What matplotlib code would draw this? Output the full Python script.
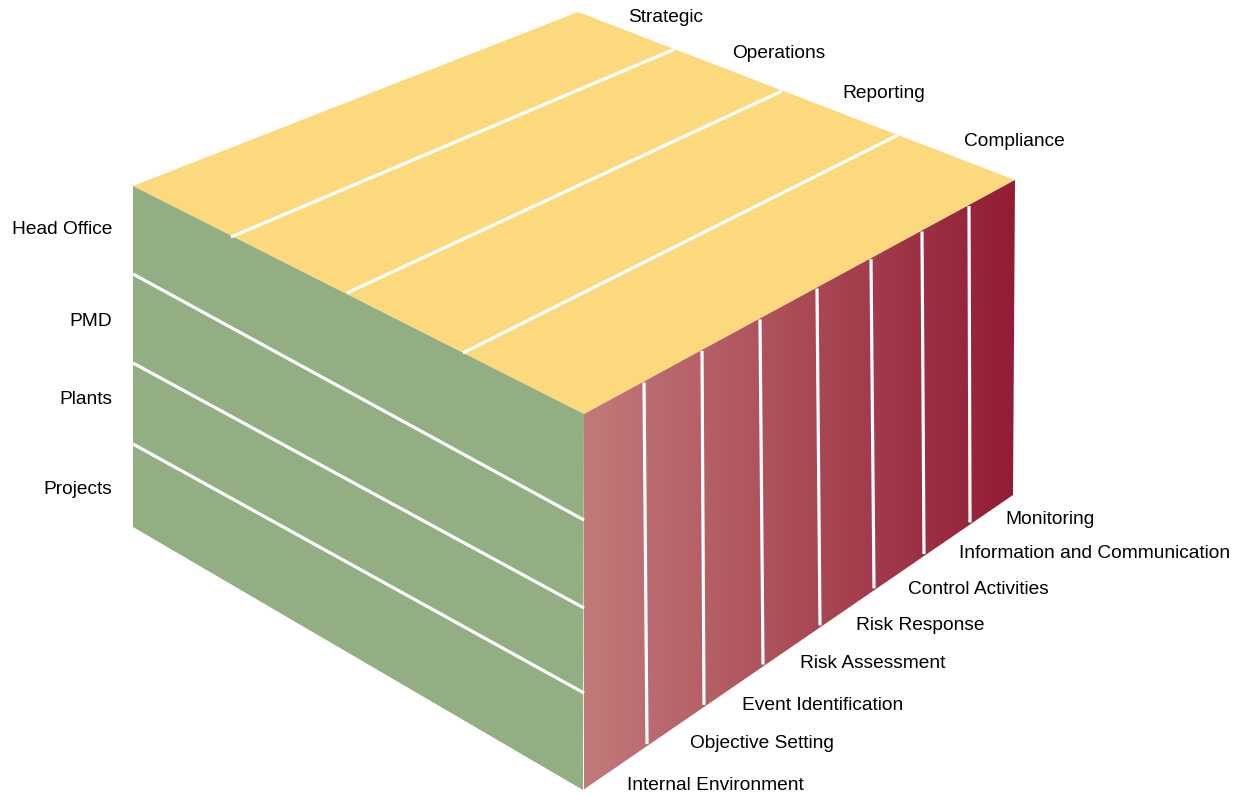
import numpy as np
import matplotlib
matplotlib.use("Agg")
import matplotlib.pyplot as plt
from matplotlib.patches import Polygon
from matplotlib.colors import LinearSegmentedColormap

plt.rcParams['font.family'] = ['Liberation Sans', 'DejaVu Sans']

# Categories
objectives = ["Strategic", "Operations", "Reporting", "Compliance"]
units = ["Head Office", "PMD", "Plants", "Projects"]
components = ["Internal Environment", "Objective Setting", "Event Identification",
              "Risk Assessment", "Risk Response", "Control Activities",
              "Information and Communication", "Monitoring"]

# Colours
top_color = "#FDD97E"
left_color = "#93AE82"
grad_light = "#C27A7A"
grad_dark = "#921C34"

W, H = 1248, 796
fig = plt.figure(figsize=(W / 100, H / 100), dpi=100)
ax = fig.add_axes([0, 0, 1, 1])
ax.set_xlim(0, W)
ax.set_ylim(H, 0)
ax.axis('off')

# Cube vertices (pixel layout)
T = (578, 12)      # top back
L = (133, 186)     # top left
F = (584, 414)     # top front
R = (1015, 180)    # top right
BL = (133, 527)
BF = (583, 790)
BR = (1013, 495)

ax.add_patch(Polygon([T, L, F, R], closed=True, fc=top_color, ec='none', zorder=1))
ax.add_patch(Polygon([L, BL, BF, F], closed=True, fc=left_color, ec='none', zorder=1))
rf = Polygon([F, R, BR, BF], closed=True, fc='none', ec='none', zorder=1)
ax.add_patch(rf)
cmap = LinearSegmentedColormap.from_list("g", [grad_light, grad_dark])
grad = np.linspace(0, 1, 256).reshape(1, -1)
im = ax.imshow(grad, cmap=cmap, extent=(F[0], R[0], BF[1], R[1]), aspect='auto',
               zorder=1, interpolation='bilinear')
im.set_clip_path(rf)

lw = 2.3
# Top face divider lines
top_lines = [((231, 237), (675, 49)), ((347, 293), (782, 91)), ((463, 353), (898, 135))]
for (a, b) in top_lines:
    ax.plot([a[0], b[0]], [a[1], b[1]], color='white', lw=lw, solid_capstyle='butt', zorder=2)

# Left face divider lines
left_lines = [((133, 274), (584, 520)), ((133, 363), (584, 608)), ((133, 444), (584, 693))]
for (a, b) in left_lines:
    ax.plot([a[0], b[0]], [a[1], b[1]], color='white', lw=lw, solid_capstyle='butt', zorder=2)

# Right face divider lines
tops_x = [644, 702, 760, 817, 871, 922, 969]
bots_x = [647, 704, 763, 820, 874, 924, 970]
def y_on(p, q, x):
    return p[1] + (q[1] - p[1]) * (x - p[0]) / (q[0] - p[0])
for xt, xb in zip(tops_x, bots_x):
    yt = y_on(F, R, xt) + 1
    yb = y_on(BF, BR, xb) - 2
    ax.plot([xt, xb], [yt, yb], color='white', lw=lw, solid_capstyle='butt', zorder=2)

fs = 13.8
dy = 2
obj_pos = [(628, 16), (732, 52), (842, 92), (964, 140)]
for name, (x, y) in zip(objectives, obj_pos):
    ax.text(x, y + dy, name, fontsize=fs, ha='left', va='center', color='black')

unit_pos = [(112, 228), (112, 319), (112, 397), (112, 487)]
for name, (x, y) in zip(units, unit_pos):
    ax.text(x, y + dy, name, fontsize=fs, ha='right', va='center', color='black')

comp_pos = [(627, 784), (690, 741), (742, 703), (800, 662), (856, 623),
            (908, 588), (959, 551), (1005, 518)]
for name, (x, y) in zip(components, comp_pos):
    ax.text(x, y + dy, name, fontsize=fs, ha='left', va='center', color='black')

fig.savefig("out.png", dpi=100)
